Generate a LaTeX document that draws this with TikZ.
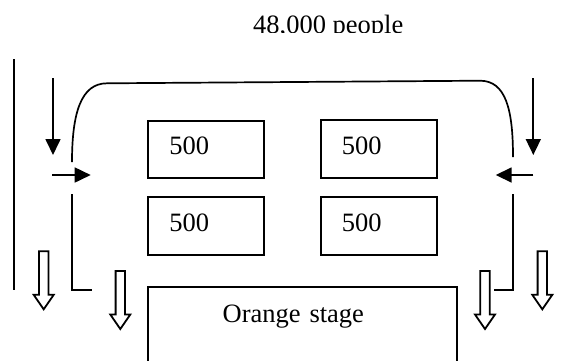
\documentclass[tikz,border=0pt]{standalone}
\usepackage{fontspec}
\setmainfont{Liberation Serif}
\usetikzlibrary{arrows.meta}
\begin{document}
\begin{tikzpicture}[x=1pt,y=1pt,
  line/.style={line width=1.7pt},
  txt/.style={font=\fontsize{26.5}{30}\selectfont},
  box/.style={draw, line width=2pt, rectangle, outer sep=0pt, txt},
  seat/.style={box, minimum height=57.6pt, text width=74pt, inner xsep=21pt, inner ysep=0pt, align=left, text height=18pt, text depth=7.2pt},
  solidarrow/.style={line width=1.7pt, -{Triangle[length=16pt,width=15pt]}},
  hollow/.style={draw, line width=1.8pt, fill=white, line join=miter},
  downblock/.pic={\draw[hollow] (-4.7,58) -- (-4.7,14.5) -- (-10,14.5) -- (0,0) -- (10,14.5) -- (4.7,14.5) -- (4.7,58) -- cycle;}
]
\useasboundingbox (0,0) rectangle (562,-360);
\clip (0,0) rectangle (562,-360);

% title (bottom edge cut off as in the reference)
\begin{scope}
  \clip (0,0) rectangle (562,-32.4);
  \node[txt, anchor=base west, inner sep=0pt] (title) at (253,-33.2) {48,000 people};
\end{scope}

% seating blocks
\node[seat] (s1) at (206.3,-149.5) {500};
\node[seat] (s2) at (378.9,-148.9) {500};
\node[seat] (s3) at (206.3,-226.2) {500};
\node[seat] (s4) at (378.9,-226.2) {500};

% stage
\node[box, anchor=north west, text width=159.6pt, inner xsep=74.4pt, inner ysep=17.7pt, align=left, text height=17.5pt, text depth=60pt] (stage) at (148.3,-287.3) {Orange stage};

% outer left wall
\coordinate (lw1) at (14,-59);
\coordinate (lw2) at (14,-290);
\draw[line] (lw1) -- (lw2);

% solid arrows
\coordinate (ld1) at (53,-78);   \coordinate (ld2) at (53,-155);
\coordinate (rd1) at (533.3,-78); \coordinate (rd2) at (533.3,-155);
\coordinate (lr1) at (52.3,-175); \coordinate (lr2) at (90.7,-175);
\coordinate (rl1) at (533.3,-175); \coordinate (rl2) at (495.7,-175);
\draw[solidarrow] (ld1) -- (ld2);
\draw[solidarrow] (rd1) -- (rd2);
\draw[solidarrow] (lr1) -- (lr2);
\draw[solidarrow] (rl1) -- (rl2);

% arch over the seating
\coordinate (a1) at (72,-162);
\coordinate (a2) at (107,-83.3);
\coordinate (a3) at (480,-80.7);
\coordinate (a4) at (513,-157);
\draw[line] (a1) .. controls (72,-113) and (81,-83.3) .. (a2) -- (a3)
  .. controls (506,-80.7) and (513,-110) .. (a4);

% inner L-shaped walls
\coordinate (l1) at (72,-194);  \coordinate (l2) at (72,-290);  \coordinate (l3) at (91.7,-290);
\coordinate (r1) at (513.3,-194); \coordinate (r2) at (513.3,-290); \coordinate (r3) at (494.3,-290);
\draw[line] (l1) -- (l2) -- (l3);
\draw[line] (r1) -- (r2) -- (r3);

% hollow exit arrows
\pic at (43.7,-309.3) {downblock};
\pic at (120.3,-329) {downblock};
\pic at (485,-329) {downblock};
\pic at (542.3,-309.3) {downblock};
\end{tikzpicture}
\end{document}
